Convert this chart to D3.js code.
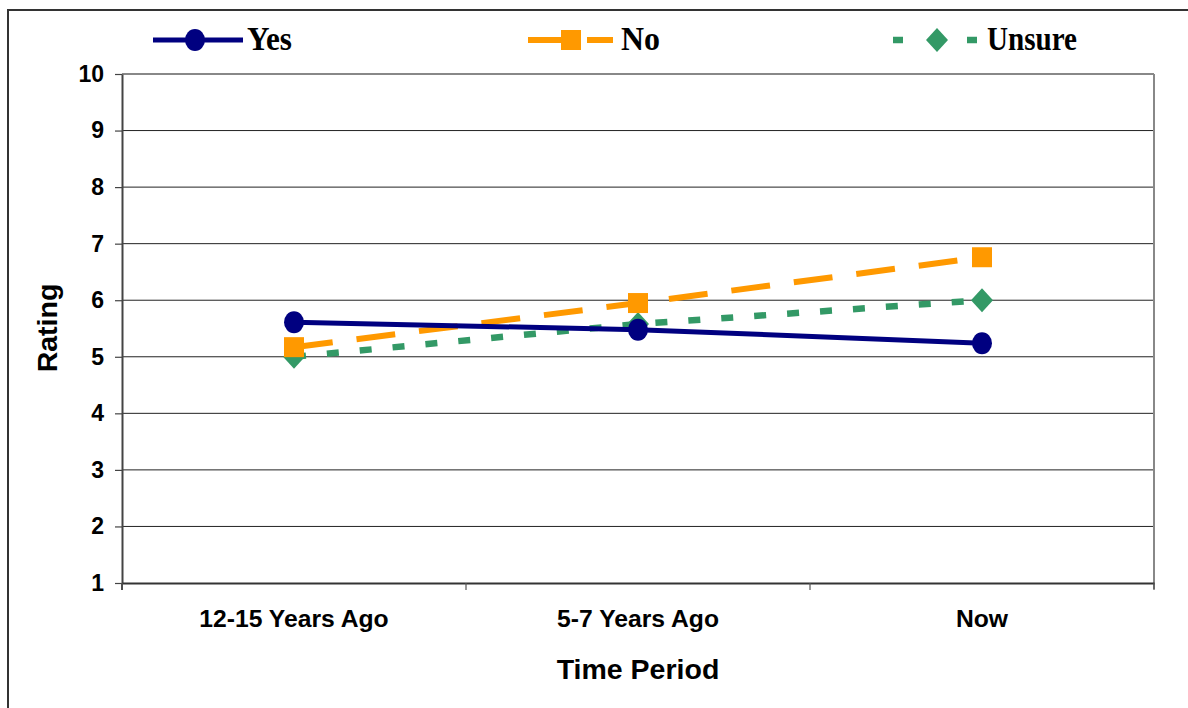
<!DOCTYPE html>
<html><head><meta charset="utf-8">
<script src="https://cdn.jsdelivr.net/npm/d3@7"></script>
<style>html,body{margin:0;padding:0;background:#fff;}svg{display:block;}</style>
</head><body>
<svg id="chart" width="1188" height="708"></svg>
<script>
const categories = ["12-15 Years Ago", "5-7 Years Ago", "Now"];
const yesValues = [5.61, 5.48, 5.24];
const noValues = [5.17, 5.95, 6.76];
const unsureValues = [5.0, 5.58, 6.0];
const yTicks = [1,2,3,4,5,6,7,8,9,10];
const seriesNames = ["Yes", "No", "Unsure"];

const svg = d3.select("#chart");
const m = {left:122, right:1154, top:74, bottom:583};

// outer border (top and left only visible)
svg.append("path").attr("d","M8,708 L8,10 L1188,10").attr("fill","none").attr("stroke","#333").attr("stroke-width",2);

const x = d3.scaleBand().domain(categories).range([m.left, m.right]);
const y = d3.scaleLinear().domain([1,10]).range([m.bottom, m.top]);

// gridlines
svg.append("g").selectAll("line").data(yTicks.slice(1)).join("line")
  .attr("x1", m.left).attr("x2", m.right)
  .attr("y1", d=>y(d)).attr("y2", d=>y(d))
  .attr("stroke", d=>d===10?"#888":"#222").attr("stroke-width", d=>d===10?2:1);
// right border
svg.append("line").attr("x1",m.right).attr("x2",m.right).attr("y1",m.top).attr("y2",m.bottom+6)
  .attr("stroke","#888").attr("stroke-width",2);

// y axis
const yAxis = d3.axisLeft(y).tickValues(yTicks).tickSize(7).tickSizeOuter(0).tickPadding(11);
const gy = svg.append("g").attr("transform",`translate(${m.left},0)`).call(yAxis);
gy.select(".domain").attr("stroke","#444").attr("stroke-width",2);
gy.selectAll(".tick line").attr("stroke","#444").attr("stroke-width",1.2);
gy.selectAll("text").attr("font-family","'Liberation Sans', Arial, sans-serif").attr("font-weight","bold")
  .attr("font-size","23px").attr("fill","#000");
svg.append("line").attr("x1",m.left).attr("x2",m.left).attr("y1",m.bottom).attr("y2",m.bottom+7).attr("stroke","#444").attr("stroke-width",2);

// x axis
const gx = svg.append("g").attr("transform",`translate(0,${m.bottom})`).call(d3.axisBottom(x).tickSize(0).tickPadding(26));
gx.select(".domain").attr("stroke","#333").attr("stroke-width",2);
gx.selectAll("text").attr("font-family","'Liberation Sans', Arial, sans-serif").attr("font-weight","bold")
  .attr("font-size","24.7px").attr("fill","#000");
// band boundary ticks
const bounds = categories.map(c=>x(c)).concat([m.right]);
svg.append("g").selectAll("line").data(bounds).join("line")
  .attr("x1",d=>d).attr("x2",d=>d).attr("y1",m.bottom).attr("y2",m.bottom+7)
  .attr("stroke","#555").attr("stroke-width",1.2);

// axis titles
svg.append("text").attr("x",638).attr("y",679).attr("text-anchor","middle")
  .attr("font-family","'Liberation Sans', Arial, sans-serif").attr("font-weight","bold").attr("font-size","28.5px").text("Time Period");
svg.append("text").attr("transform","translate(57,328) rotate(-90)").attr("text-anchor","middle")
  .attr("font-family","'Liberation Sans', Arial, sans-serif").attr("font-weight","bold").attr("font-size","28.5px").text("Rating");

const cx = c => x(c) + x.bandwidth()/2;
const line = d3.line().x((d,i)=>cx(categories[i])).y(d=>y(d));

const styles = [
  {name:seriesNames[0], vals:yesValues, color:"#000080", width:5, dash:null, marker:"circle"},
  {name:seriesNames[1], vals:noValues, color:"#FF9900", width:6, dash:"39,24", marker:"square"},
  {name:seriesNames[2], vals:unsureValues, color:"#339966", width:6.5, dash:"12,21", marker:"diamond"}
];

function drawMarker(g, type, px, py, color){
  if(type==="circle") g.append("ellipse").attr("cx",px).attr("cy",py).attr("rx",10).attr("ry",11).attr("fill",color);
  else if(type==="square") g.append("rect").attr("x",px-10).attr("y",py-10).attr("width",20).attr("height",20).attr("fill",color);
  else g.append("path").attr("d",`M${px},${py-12} L${px+11},${py} L${px},${py+12} L${px-11},${py} Z`).attr("fill",color);
}

const order = [2,1,0];
order.forEach(k=>{
  const s = styles[k];
  svg.append("path").datum(s.vals).attr("d",line).attr("fill","none")
    .attr("stroke",s.color).attr("stroke-width",s.width).attr("stroke-dasharray",s.dash);
});
order.forEach(k=>{
  const s = styles[k];
  const g = svg.append("g");
  s.vals.forEach((v,i)=>drawMarker(g, s.marker, cx(categories[i]), y(v), s.color));
});

// legend
const legendItems = [
  {s:styles[0], x1:153, x2:243, mx:195, tx:247, tw:45},
  {s:styles[1], x1:528, x2:613, mx:571, tx:621, tw:39},
  {s:styles[2], x1:893, x2:977, mx:937, tx:987, tw:90}
];
const ly = 40;
legendItems.forEach(it=>{
  const g = svg.append("g");
  if(it.s.marker==="circle"){
    g.append("line").attr("x1",it.x1).attr("x2",it.x2).attr("y1",ly).attr("y2",ly).attr("stroke",it.s.color).attr("stroke-width",it.s.width);
  } else if(it.s.marker==="square"){
    g.append("line").attr("x1",it.x1).attr("x2",it.mx).attr("y1",ly).attr("y2",ly).attr("stroke",it.s.color).attr("stroke-width",it.s.width);
    g.append("line").attr("x1",it.mx+16).attr("x2",it.x2).attr("y1",ly).attr("y2",ly).attr("stroke",it.s.color).attr("stroke-width",it.s.width);
  } else {
    g.append("line").attr("x1",it.x1).attr("x2",it.x1+10).attr("y1",ly).attr("y2",ly).attr("stroke",it.s.color).attr("stroke-width",it.s.width);
    g.append("line").attr("x1",it.x2-10).attr("x2",it.x2).attr("y1",ly).attr("y2",ly).attr("stroke",it.s.color).attr("stroke-width",it.s.width);
  }
  drawMarker(g, it.s.marker, it.mx, ly, it.s.color);
  g.append("text").attr("x",it.tx).attr("y",ly+10).attr("font-family","'Liberation Serif', 'Times New Roman', serif")
    .attr("font-weight","bold").attr("font-size","33px").attr("fill","#000")
    .attr("textLength",it.tw).attr("lengthAdjust","spacingAndGlyphs").text(it.s.name);
});
</script>
</body></html>
